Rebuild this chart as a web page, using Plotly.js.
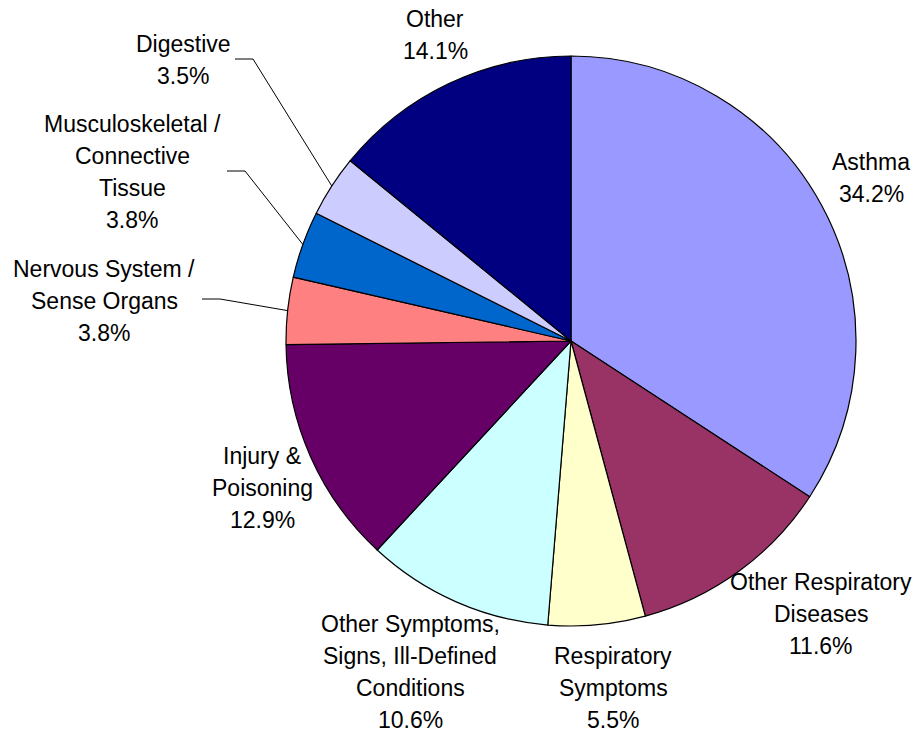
<!DOCTYPE html>
<html>
<head>
<meta charset="utf-8">
<script src="https://cdn.plot.ly/plotly-3.0.1.min.js"></script>
<style>html,body{margin:0;padding:0;background:#fff;}#chart{width:920px;height:732px;}</style>
</head>
<body>
<div id="chart"></div>
<script>
// ---- data ----
var categories = [
  "Asthma",
  "Other Respiratory<br>Diseases",
  "Respiratory<br>Symptoms",
  "Other Symptoms,<br>Signs, Ill-Defined<br>Conditions",
  "Injury &<br>Poisoning",
  "Nervous System /<br>Sense Organs",
  "Musculoskeletal /<br>Connective<br>Tissue",
  "Digestive",
  "Other"
];
var values = [34.2, 11.6, 5.5, 10.6, 12.9, 3.8, 3.8, 3.5, 14.1];
var colors = ["#9999FF", "#993366", "#FFFFCC", "#CCFFFF", "#660066", "#FF8080", "#0066CC", "#CCCCFF", "#000080"];

// ---- layout (pixel geometry) ----
var W = 920, H = 732;
var cx = 571, cy = 341, R = 285;
var LINE = 32;           // label line spacing in px
// label block centres in pixels
var labelPos = [[871,178],[821,614],[613,688],[410,672],[262,488],[104,301],[132,172],[183,60],[435,35]];
// leader lines (pixels): [textEndX, elbowX, y] or null
var leaders = [null,null,null,null,null,[202,220,299],[227,245,171],[235,253,59],null];

function px(x){return x/W;}
function py(y){return 1-y/H;}

var total = values.reduce(function(a,b){return a+b;},0);
var annotations = [], shapes = [];
var cum = 0;
for (var i=0;i<values.length;i++){
  var mid = (cum + values[i]/2)/total*2*Math.PI;
  cum += values[i];
  var lines = categories[i].split('<br>').concat([values[i].toFixed(1) + '%']);
  var y0 = labelPos[i][1] - (lines.length-1)*LINE/2;
  for (var k=0;k<lines.length;k++){
    annotations.push({
      x: px(labelPos[i][0]), y: py(y0 + k*LINE), xref:'paper', yref:'paper',
      xanchor:'center', yanchor:'middle', showarrow:false, align:'center',
      text: lines[k],
      font:{family:'Liberation Sans, Arial, sans-serif', size:23, color:'#000'}
    });
  }
  if (leaders[i]){
    var tx = cx + R*Math.sin(mid), ty = cy - R*Math.cos(mid);
    var L = leaders[i];
    shapes.push({type:'path', xref:'paper', yref:'paper',
      path:'M '+px(L[0])+' '+py(L[2])+' L '+px(L[1])+' '+py(L[2])+' L '+px(tx)+' '+py(ty),
      line:{color:'#000', width:1}});
  }
}

var trace = {
  type:'pie', labels: categories, values: values, sort:false, direction:'clockwise', rotation:0,
  marker:{colors:colors, line:{color:'#000', width:1.2}},
  textinfo:'none', hoverinfo:'label+percent', showlegend:false,
  domain:{x:[px(cx-R), px(cx+R)], y:[py(cy+R), py(cy-R)]}
};

Plotly.newPlot('chart', [trace], {
  width:W, height:H, margin:{l:0,r:0,t:0,b:0},
  paper_bgcolor:'#fff', plot_bgcolor:'#fff',
  annotations: annotations, shapes: shapes, showlegend:false
}, {displayModeBar:false, staticPlot:true});
</script>
</body>
</html>
